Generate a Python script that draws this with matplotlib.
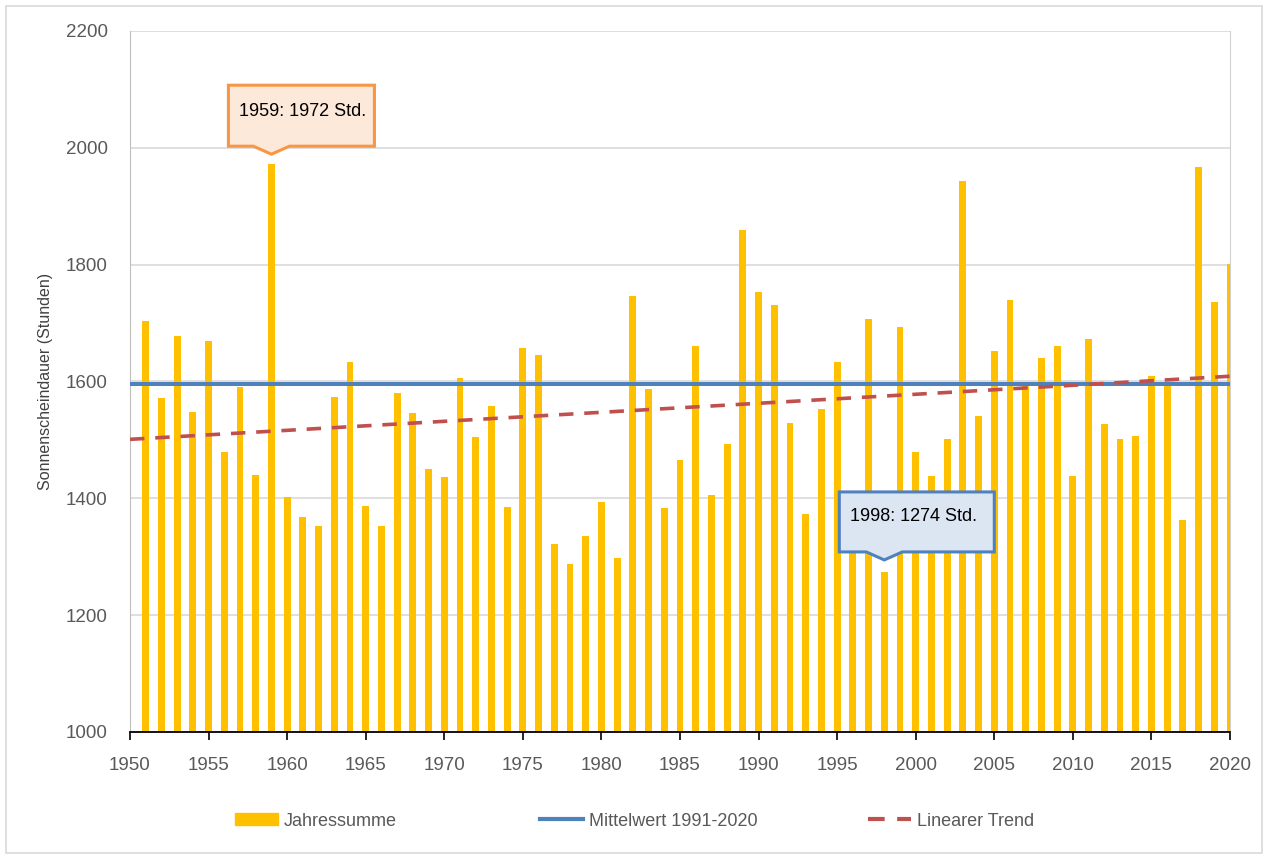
import matplotlib
matplotlib.use("Agg")
import matplotlib.pyplot as plt
import matplotlib.transforms as mtransforms
from matplotlib.patches import Polygon, Rectangle
from matplotlib.lines import Line2D
from matplotlib.patches import Patch

plt.rcParams['font.family'] = ['Liberation Sans', 'DejaVu Sans']

# Jahressummen der Sonnenscheindauer (Stunden), 1951-2020
years = list(range(1951, 2021))
sunshine = [1704, 1571, 1678, 1547, 1669, 1480, 1591, 1440, 1972, 1403,
            1368, 1352, 1574, 1633, 1387, 1353, 1581, 1546, 1451, 1436,
            1606, 1505, 1558, 1385, 1657, 1645, 1321, 1288, 1335, 1394,
            1298, 1746, 1587, 1384, 1466, 1661, 1406, 1493, 1859, 1753,
            1731, 1529, 1373, 1553, 1633, 1410, 1707, 1274, 1693, 1479,
            1438, 1502, 1943, 1541, 1652, 1740, 1599, 1640, 1661, 1438,
            1673, 1528, 1501, 1506, 1609, 1594, 1363, 1967, 1736, 1801]

mean_1991_2020 = 1595
trend_years = [1950, 2020]
trend_values = [1501, 1609]

yticks = [1000, 1200, 1400, 1600, 1800, 2000, 2200]
xticks = list(range(1950, 2021, 5))

bar_col = '#FFC000'
mean_col = '#4F81BD'
trend_col = '#C0504D'
txt_col = '#595959'

fig = plt.figure(figsize=(12.68, 8.59), dpi=100)
ax = fig.add_axes([130 / 1268, 1 - 732 / 859, 1100 / 1268, 701 / 859])

ax.bar(years, sunshine, width=0.44, color=bar_col, zorder=2)
ax.axhline(mean_1991_2020, color=mean_col, lw=2.9, zorder=3)
ax.plot(trend_years, trend_values, color=trend_col, lw=2.6, dashes=(4, 3), zorder=4)

ax.set_xlim(1950, 2020)
ax.set_ylim(1000, 2200)
ax.set_yticks(yticks)
ax.set_xticks(xticks)
ax.grid(axis='y', color='#D9D9D9', lw=1.2, zorder=0)
ax.set_axisbelow(True)

ax.spines['top'].set_visible(False)
ax.spines['left'].set_color('#BFBFBF')
ax.spines['right'].set_color('#D0D0D0')
ax.spines['bottom'].set_color('black')
ax.spines['bottom'].set_linewidth(1.3)
ax.tick_params(axis='y', length=0, labelsize=13.5, labelcolor=txt_col, pad=16)
ax.tick_params(axis='x', length=6, width=1.2, direction='out', color='black',
               labelsize=13.5, labelcolor=txt_col, pad=12)

ax.set_ylabel('Sonnenscheindauer (Stunden)', fontsize=11.5, color='#404040', labelpad=9)


def callout(x, y, text, face, edge, left, right, bottom, top, tip, tx, ty):
    # Form in Pixeln relativ zum Balkenende
    pts = [(left, bottom), (-18, bottom), (0, tip), (18, bottom), (right, bottom),
           (right, top), (left, top)]
    pts = [(px / 100, py / 100) for px, py in pts]
    trans = fig.dpi_scale_trans + mtransforms.ScaledTranslation(x, y, ax.transData)
    poly = Polygon(pts, closed=True, facecolor=face, edgecolor=edge, lw=2.2,
                   transform=trans, clip_on=False, zorder=6)
    ax.add_patch(poly)
    ax.text(tx / 100, ty / 100, text, transform=trans, ha='center', va='center',
            fontsize=13, color='black', zorder=7)


callout(1959, 1972, '1959: 1972 Std.', '#FDE9D9', '#F79646', -43, 103, 18, 79, 10, 31, 53)
callout(1998, 1274, '1998: 1274 Std.', '#DCE6F2', '#4F81BD', -45, 110, 20, 80, 12, 29, 55)

handles = [Patch(facecolor=bar_col, edgecolor=bar_col),
           Line2D([], [], color=mean_col, lw=3),
           Line2D([], [], color=trend_col, lw=3, dashes=(4, 3))]
labels = ['Jahressumme', 'Mittelwert 1991-2020', 'Linearer Trend']
leg_x = [235, 540, 868]
for h, lab, lx in zip(handles, labels, leg_x):
    leg = fig.legend([h], [lab], loc='center left', bbox_to_anchor=(lx / 1268, 1 - 821 / 859),
                     frameon=False, fontsize=13, handlelength=2.4, handleheight=0.6,
                     handletextpad=0.3, borderpad=0, borderaxespad=0)
    for t in leg.get_texts():
        t.set_color(txt_col)

fig.patches.append(Rectangle((6 / 1268, 6 / 859), 1256 / 1268, 847 / 859, transform=fig.transFigure,
                             fill=False, edgecolor='#D9D9D9', lw=1.2))

fig.savefig('out.png', dpi=100)
